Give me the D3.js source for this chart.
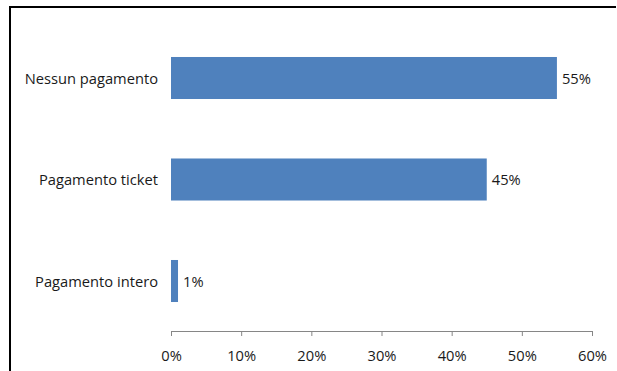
<!DOCTYPE html>
<html>
<head>
<meta charset="utf-8">
<script src="https://cdn.jsdelivr.net/npm/d3@7"></script>
<style>
  html, body { margin: 0; padding: 0; background: #fff; }
  svg { display: block; }
  text { font-family: "Open Sans", Lato, sans-serif; fill: #1a1a1a; }
</style>
</head>
<body>
<svg id="chart" width="617" height="371"></svg>
<script>
// Payment categories and their shares (%)
const categories = ["Nessun pagamento", "Pagamento ticket", "Pagamento intero"];
const values = [55, 45, 1];
const tickValues = [0, 10, 20, 30, 40, 50, 60];

const svg = d3.select("#chart");
const fontSize = 14.7;

// Frame lines (top and left)
svg.append("line").attr("x1", 10).attr("x2", 616).attr("y1", 7).attr("y2", 7)
  .attr("stroke", "#000").attr("stroke-width", 2);
svg.append("line").attr("x1", 10).attr("x2", 10).attr("y1", 6).attr("y2", 371)
  .attr("stroke", "#000").attr("stroke-width", 2);

const x = d3.scaleLinear().domain([0, 60]).range([171, 592]);
const y = d3.scaleBand().domain(categories).range([27.25, 331.75])
  .paddingInner(0.586).paddingOuter(0.293);

// Bars
svg.append("g").selectAll("rect").data(values).join("rect")
  .attr("x", x(0))
  .attr("y", (d, i) => y(categories[i]))
  .attr("width", d => x(d) - x(0))
  .attr("height", y.bandwidth())
  .attr("fill", "#4F81BD");

// Value labels
svg.append("g").selectAll("text").data(values).join("text")
  .attr("x", d => x(d) + 5)
  .attr("y", (d, i) => y(categories[i]) + y.bandwidth() / 2)
  .attr("dy", "0.38em")
  .attr("font-size", fontSize)
  .text(d => d + "%");

// Category labels
svg.append("g").selectAll("text").data(categories).join("text")
  .attr("x", 158)
  .attr("y", d => y(d) + y.bandwidth() / 2)
  .attr("dy", "0.38em")
  .attr("text-anchor", "end")
  .attr("font-size", fontSize)
  .text(d => d);

// Bottom axis
const axis = svg.append("g").attr("transform", "translate(0,331)")
  .call(d3.axisBottom(x).tickValues(tickValues).tickSize(5).tickPadding(15)
    .tickFormat(d => d + "%"));
axis.select(".domain").attr("stroke", "#868686");
axis.selectAll(".tick line").attr("stroke", "#868686");
axis.selectAll(".tick text").attr("font-size", fontSize)
  .attr("font-family", "'Open Sans', Lato, sans-serif").attr("fill", "#1a1a1a");
</script>
</body>
</html>
